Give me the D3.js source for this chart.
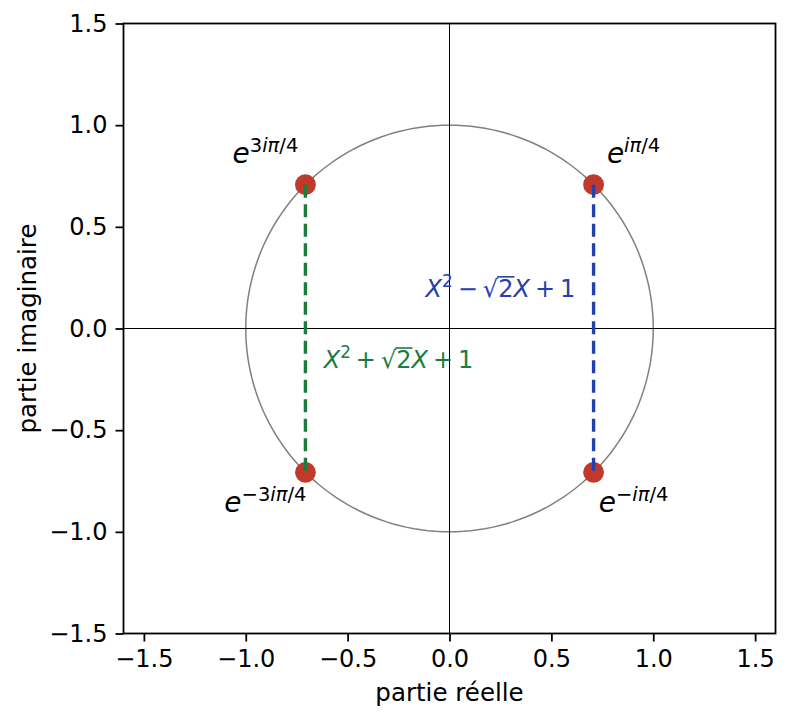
<!DOCTYPE html>
<html>
<head>
<meta charset="utf-8">
<script src="https://cdn.jsdelivr.net/npm/d3@7"></script>
<style>
  body { margin: 0; background: #fff; }
  svg text { font-family: "DejaVu Sans", sans-serif; }
</style>
</head>
<body>
<div id="chart"></div>
<script>
// racines quatrièmes de -1 : angles (en multiples de pi)
const rootAngles = [1 / 4, 3 / 4, -3 / 4, -1 / 4];
const rootExponents = ['iπ/4', '3iπ/4', '−3iπ/4', '−iπ/4'];

// facteurs de X^4 + 1 : paires de racines conjuguées
const factorPairs = [[1 / 4, -1 / 4], [3 / 4, -3 / 4]];
const factorSigns = ['−', '+'];
const factorColors = ['#2241b0', '#1a7d3b'];
const factorLabelPos = [[0.25, 0.2], [-0.25, -0.15]];

const xTicks = [-1.5, -1.0, -0.5, 0.0, 0.5, 1.0, 1.5];
const yTicks = [-1.5, -1.0, -0.5, 0.0, 0.5, 1.0, 1.5];

const FONT = '"DejaVu Sans", sans-serif';
const W = 789, H = 723;
const margin = { top: 23.5, left: 123.5, right: 13.5, bottom: 89.5 };
const width = W - margin.left - margin.right,
  height = H - margin.top - margin.bottom;

const svg = d3.select('#chart').append('svg')
  .attr('width', W)
  .attr('height', H);

const g = svg.append('g')
  .attr('transform', 'translate(' + margin.left + ',' + margin.top + ')');

const x = d3.scaleLinear().domain([-1.6, 1.6]).range([0, width]);
const y = d3.scaleLinear().domain([-1.5, 1.5]).range([height, 0]);

const fmt = d => d3.format('.1f')(d).replace('-', '−');

// unit circle
const circlePts = d3.range(0, 361, 2).map(a => [Math.cos(a * Math.PI / 180), Math.sin(a * Math.PI / 180)]);
g.append('path')
  .datum(circlePts)
  .attr('fill', 'none')
  .attr('stroke', '#808080')
  .attr('stroke-width', 1.5)
  .attr('d', d3.line().x(d => x(d[0])).y(d => y(d[1])));

// axes through origin
g.append('line')
  .attr('x1', x(-1.6)).attr('x2', x(1.6))
  .attr('y1', y(0)).attr('y2', y(0))
  .attr('stroke', '#000').attr('stroke-width', 1);
g.append('line')
  .attr('x1', x(0)).attr('x2', x(0))
  .attr('y1', y(-1.5)).attr('y2', y(1.5))
  .attr('stroke', '#000').attr('stroke-width', 1);

// roots
const roots = rootAngles.map((a, i) => ({
  re: Math.cos(a * Math.PI),
  im: Math.sin(a * Math.PI),
  exp: rootExponents[i]
}));

g.append('g')
  .selectAll('circle')
  .data(roots)
  .join('circle')
    .attr('cx', d => x(d.re))
    .attr('cy', d => y(d.im))
    .attr('r', 10.4)
    .attr('fill', '#c0392b');

// dashed segments joining conjugate roots
g.append('g')
  .selectAll('line')
  .data(factorPairs)
  .join('line')
    .attr('x1', d => x(Math.cos(d[0] * Math.PI)))
    .attr('x2', d => x(Math.cos(d[1] * Math.PI)))
    .attr('y1', d => y(Math.sin(d[0] * Math.PI)))
    .attr('y2', d => y(Math.sin(d[1] * Math.PI)))
    .attr('stroke', (d, i) => factorColors[i])
    .attr('stroke-width', 3.4)
    .attr('stroke-dasharray', '13,6.5');

// root labels e^{...}
const rootLabels = g.append('g')
  .selectAll('text')
  .data(roots)
  .join('text')
    .attr('x', d => x(d.re) + (d.re > 0 ? 40 : -40))
    .attr('y', d => y(d.im) + (d.im > 0 ? -22 : 40))
    .attr('text-anchor', 'middle')
    .style('font-family', FONT)
    .style('font-size', '28px');
rootLabels.append('tspan')
  .style('font-style', 'italic')
  .text('e');
rootLabels.each(function (d) {
  const t = d3.select(this);
  const parts = d.exp.match(/(−?)(3?)(iπ)(\/4)/);
  const sup = t.append('tspan').attr('dy', -11).style('font-size', '19.5px');
  if (parts[1] || parts[2]) sup.append('tspan').text(parts[1] + parts[2]);
  sup.append('tspan').style('font-style', 'italic').text(parts[3]);
  sup.append('tspan').text(parts[4]);
});

// factor labels X^2 ± sqrt(2) X + 1
const factorLabels = g.append('g')
  .selectAll('text')
  .data(factorSigns)
  .join('text')
    .attr('x', (d, i) => x(factorLabelPos[i][0]))
    .attr('y', (d, i) => y(factorLabelPos[i][1]) + 9)
    .attr('text-anchor', 'middle')
    .attr('fill', (d, i) => factorColors[i])
    .style('font-family', FONT)
    .style('font-size', '24px');
factorLabels.each(function (s, i) {
  const t = d3.select(this);
  t.append('tspan').style('font-style', 'italic').text('X');
  t.append('tspan').attr('dy', -10).style('font-size', '16.8px').text('2');
  t.append('tspan').attr('dy', 10).attr('dx', 5).text(s);
  const sq = t.append('tspan').attr('dx', 5).text('√');
  const rad = t.append('tspan').text('2');
  t.append('tspan').style('font-style', 'italic').text('X');
  t.append('tspan').attr('dx', 5).text('+');
  t.append('tspan').attr('dx', 5).text('1');
  // overline of the radical
  const sqEnd = sq.node().getEndPositionOfChar(0);
  const radEnd = rad.node().getEndPositionOfChar(0);
  const yy = y(factorLabelPos[i][1]) + 9 - 20;
  g.append('line')
    .attr('x1', sqEnd.x - 1)
    .attr('x2', radEnd.x + 1)
    .attr('y1', yy)
    .attr('y2', yy)
    .attr('stroke', factorColors[i])
    .attr('stroke-width', 1.6);
});

// frame
g.append('rect')
  .attr('width', width)
  .attr('height', height)
  .attr('fill', 'none')
  .attr('stroke', '#000')
  .attr('stroke-width', 1.8);

// axes
g.append('g')
  .attr('transform', 'translate(0,' + height + ')')
  .call(d3.axisBottom(x).tickValues(xTicks).tickFormat(fmt).tickSize(8).tickPadding(8))
  .call(a => a.select('.domain').remove())
  .call(a => a.selectAll('.tick line').attr('stroke', '#000').attr('stroke-width', 1.8))
  .call(a => a.selectAll('.tick text').attr('fill', '#000').style('font-family', FONT).style('font-size', '24px'));

g.append('g')
  .call(d3.axisLeft(y).tickValues(yTicks).tickFormat(fmt).tickSize(8).tickPadding(8))
  .call(a => a.select('.domain').remove())
  .call(a => a.selectAll('.tick line').attr('stroke', '#000').attr('stroke-width', 1.8))
  .call(a => a.selectAll('.tick text').attr('fill', '#000').style('font-family', FONT).style('font-size', '24px'));

// axis labels
svg.append('text')
  .attr('x', margin.left + width / 2)
  .attr('y', 701)
  .attr('text-anchor', 'middle')
  .style('font-family', FONT)
  .style('font-size', '24.5px')
  .text('partie réelle');

svg.append('text')
  .attr('transform', 'translate(36,' + (margin.top + height / 2) + ') rotate(-90)')
  .attr('text-anchor', 'middle')
  .style('font-family', FONT)
  .style('font-size', '24.5px')
  .text('partie imaginaire');
</script>
</body>
</html>
